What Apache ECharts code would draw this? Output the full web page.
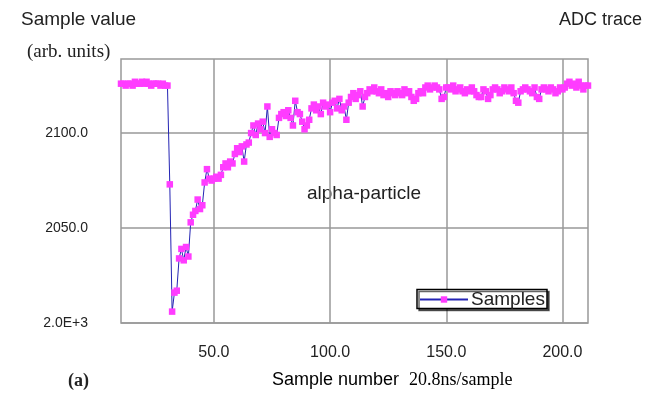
<!DOCTYPE html>
<html>
<head>
<meta charset="utf-8">
<script src="https://cdn.jsdelivr.net/npm/echarts@6/dist/echarts.min.js"></script>
<style>
html, body { margin: 0; padding: 0; background: #fff; }
#chart { width: 646px; height: 393px; }
</style>
</head>
<body>
<div id="chart"></div>
<script>
// ADC samples, starting at sample number 10
var firstSample = 10;
var adcValues = [
	2126, 2126, 2125, 2126, 2126, 2125, 2127, 2126, 2126, 2127, // 10
	2126, 2127, 2126, 2125, 2126, 2126, 2126, 2125, 2126, 2125, // 20
	2125, 2073, 2006, 2016, 2017, 2034, 2039, 2033, 2040, 2035, // 30
	2053, 2057, 2059, 2065, 2060, 2062, 2074, 2081, 2076, 2075, // 40
	2076, 2077, 2076, 2078, 2082, 2084, 2082, 2085, 2084, 2089, // 50
	2092, 2090, 2093, 2085, 2094, 2095, 2100, 2104, 2099, 2105, // 60
	2102, 2106, 2100, 2114, 2098, 2102, 2100, 2099, 2108, 2110, // 70
	2111, 2109, 2112, 2108, 2104, 2117, 2111, 2110, 2106, 2102, // 80
	2104, 2107, 2113, 2115, 2112, 2114, 2110, 2116, 2114, 2115, // 90
	2111, 2116, 2117, 2113, 2118, 2112, 2114, 2107, 2116, 2119, // 100
	2121, 2118, 2120, 2122, 2114, 2119, 2121, 2123, 2122, 2124, // 110
	2122, 2121, 2123, 2120, 2121, 2119, 2122, 2121, 2120, 2122, // 120
	2121, 2120, 2123, 2121, 2122, 2119, 2117, 2118, 2121, 2122, // 130
	2121, 2124, 2125, 2123, 2124, 2125, 2124, 2123, 2118, 2119, // 140
	2124, 2124, 2123, 2125, 2122, 2123, 2124, 2122, 2121, 2123, // 150
	2122, 2124, 2122, 2120, 2119, 2119, 2123, 2122, 2118, 2120, // 160
	2123, 2124, 2123, 2121, 2122, 2124, 2123, 2122, 2124, 2121, // 170
	2117, 2116, 2122, 2123, 2124, 2123, 2122, 2121, 2124, 2119, // 180
	2118, 2123, 2124, 2123, 2122, 2124, 2123, 2121, 2122, 2124, // 190
	2123, 2124, 2126, 2127, 2125, 2126, 2124, 2127, 2125, 2123, // 200
	2125, 2125                                                  // 210
];
var xTicks = [50, 100, 150, 200];
var yTicks = [2000, 2050, 2100];

var sans = '"Liberation Sans", Arial, sans-serif';
var serif = '"Liberation Serif", "Times New Roman", serif';
var gridColor = '#999';
var textColor = '#222';

function buildPoints() {
	var pts = [];
	for (var i = 0; i < adcValues.length; i++) {
		pts.push([firstSample + i, adcValues[i]]);
	}
	return pts;
}

var chart = echarts.init(document.getElementById('chart'));

var option = {
	animation: false,
	backgroundColor: '#fff',
	grid: {
		left: 121, top: 59, right: 58, bottom: 70,
		show: true, borderColor: gridColor, borderWidth: 1.5
	},
	xAxis: {
		type: 'value', min: 10, max: 211,
		axisLine: { show: false },
		axisTick: { show: false, customValues: xTicks },
		splitLine: { show: true, lineStyle: { color: gridColor, width: 1.5 } },
		axisLabel: {
			customValues: xTicks, margin: 22,
			fontFamily: sans, fontSize: 16, color: textColor,
			formatter: function (v) { return v.toFixed(1); }
		}
	},
	yAxis: {
		type: 'value', min: 2000, max: 2139,
		axisLine: { show: false },
		axisTick: { show: false, customValues: yTicks },
		splitLine: { show: true, lineStyle: { color: gridColor, width: 1.5 } },
		axisLabel: {
			customValues: yTicks, margin: 33,
			fontFamily: sans, fontSize: 14, color: textColor,
			formatter: function (v) { return v === 2000 ? '2.0E+3' : v.toFixed(1); }
		}
	},
	legend: {
		left: 419, top: 290, padding: 0,
		itemWidth: 48, itemHeight: 8, z: 6,
		textStyle: { fontFamily: sans, fontSize: 19, color: textColor, padding: [0, 0, 0, -2] },
		data: ['Samples']
	},
	graphic: [
		{ type: 'rect', z: 5, shape: { x: 417, y: 289.5, width: 130, height: 19 },
			style: { fill: '#fff', stroke: '#000', lineWidth: 1.5,
				shadowColor: 'rgba(0,0,0,0.6)', shadowOffsetX: 2, shadowOffsetY: 2 } },
		{ type: 'text', style: { x: 21, y: 20, text: 'Sample value', font: '19px ' + sans, fill: textColor, textVerticalAlign: 'middle' } },
		{ type: 'text', style: { x: 27, y: 52, text: '(arb. units)', font: '19px ' + serif, fill: textColor, textVerticalAlign: 'middle' } },
		{ type: 'text', style: { x: 642, y: 20, text: 'ADC trace', font: '18px ' + sans, fill: textColor, textAlign: 'right', textVerticalAlign: 'middle' } },
		{ type: 'text', style: { x: 307, y: 194, text: 'alpha-particle', font: '19px ' + sans, fill: textColor, textVerticalAlign: 'middle' } },
		{ type: 'text', style: { x: 68, y: 381, text: '(a)', font: 'bold 18px ' + serif, fill: textColor, textVerticalAlign: 'middle' } },
		{ type: 'text', style: {
			x: 272, y: 380, textVerticalAlign: 'middle',
			text: '{a|Sample number  }{b|20.8ns/sample}',
			rich: {
				a: { fontFamily: sans, fontSize: 18, color: textColor },
				b: { fontFamily: serif, fontSize: 18, color: textColor }
			}
		} }
	],
	series: [{
		name: 'Samples',
		type: 'line',
		data: buildPoints(),
		symbol: 'rect', symbolSize: 6.5,
		lineStyle: { color: '#2424b4', width: 1 },
		itemStyle: { color: '#ff3cff' },
		z: 3
	}]
};

chart.setOption(option);
</script>
</body>
</html>
